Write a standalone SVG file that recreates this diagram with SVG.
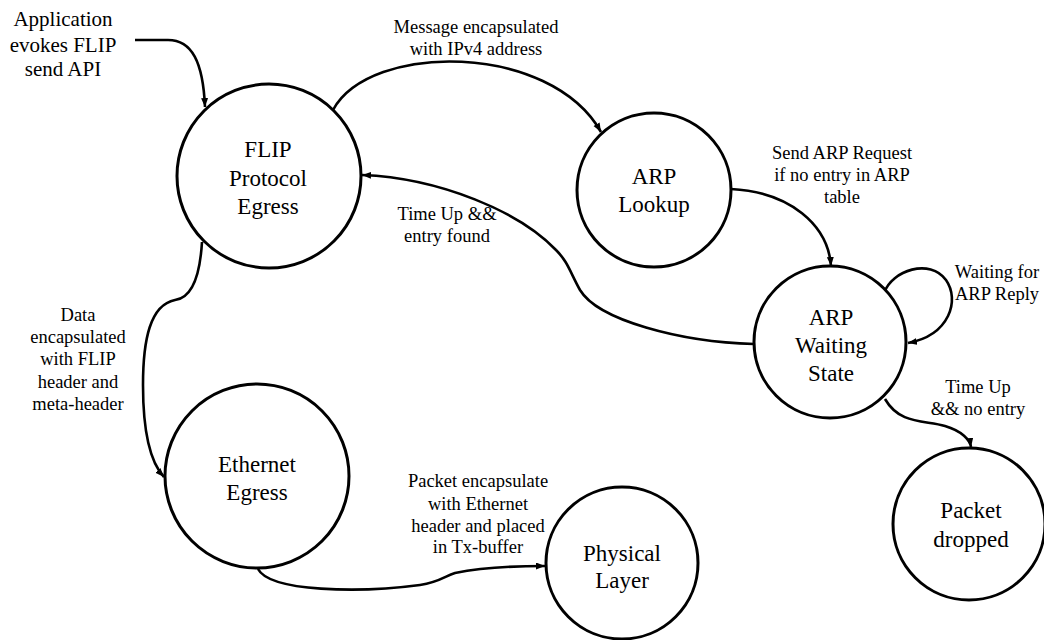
<svg xmlns="http://www.w3.org/2000/svg" width="1044" height="640" viewBox="0 0 1044 640">
  <style>
    .state { fill: #ffffff; stroke: #000000; stroke-width: 3; }
    text { font-family: 'Liberation Serif', Tinos, 'Times New Roman', 'Nimbus Roman', 'DejaVu Serif', serif; fill: #000000; text-anchor: middle; }
    .name { font-size: 23px; }
    .label { font-size: 18.5px; }
    .entry { font-size: 21px; }
    .edge { fill: none; stroke: #000000; stroke-width: 2.6; }
  </style>
  <defs>
    <marker id="arrow" markerUnits="userSpaceOnUse" markerWidth="10" markerHeight="8" refX="9" refY="3.5" orient="auto">
      <path d="M0,0 L9,3.5 L0,7 z" fill="#000000"/>
    </marker>
  </defs>
  <rect width="1044" height="640" fill="#ffffff"/>

  <!-- transitions -->
  <g id="connectors">
    <path class="edge" marker-end="url(#arrow)" d="M135,40 L168,40 C192,40 203,62 205,107"/>
    <path class="edge" marker-end="url(#arrow)" d="M333,110 C370,42 550,42 601,132"/>
    <path class="edge" marker-end="url(#arrow)" d="M731,189 C790,192 828,225 831,266"/>
    <path class="edge" marker-end="url(#arrow)" d="M884,293 C892,270 930,258 946,280 C960,300 950,335 908,343"/>
    <path class="edge" marker-end="url(#arrow)" d="M885,399 C900,425 925,420 945,426 C962,431 970,440 971,447"/>
    <path class="edge" marker-end="url(#arrow)" d="M754,344 C680,342 598,320 580,290 C570,272 568,262 556,250 C520,212 440,178 362,175"/>
    <path class="edge" marker-end="url(#arrow)" d="M202,242 C200,275 192,298 175,300 C150,305 143,340 143,385 C143,430 150,462 164,477"/>
    <path class="edge" marker-end="url(#arrow)" d="M258,569 C270,592 360,593 420,585 C440,582 445,576 455,573 C480,568 515,566 545,566"/>
  </g>

  <!-- transition labels -->
  <g id="labels">
    <text class="entry" x="63" y="26">Application</text>
    <text class="entry" x="63" y="52">evokes FLIP</text>
    <text class="entry" x="63" y="76">send API</text>

    <text class="label" x="476" y="33">Message encapsulated</text>
    <text class="label" x="476" y="55">with IPv4 address</text>

    <text class="label" x="842" y="159">Send ARP Request</text>
    <text class="label" x="842" y="181">if no entry in ARP</text>
    <text class="label" x="842" y="203">table</text>

    <text class="label" x="447" y="220">Time Up &amp;&amp;</text>
    <text class="label" x="447" y="242">entry found</text>

    <text class="label" x="997" y="278">Waiting for</text>
    <text class="label" x="997" y="300">ARP Reply</text>

    <text class="label" x="978" y="393">Time Up</text>
    <text class="label" x="978" y="415">&amp;&amp; no entry</text>

    <text class="label" x="78" y="321">Data</text>
    <text class="label" x="78" y="343">encapsulated</text>
    <text class="label" x="78" y="365">with FLIP</text>
    <text class="label" x="78" y="388">header and</text>
    <text class="label" x="78" y="410">meta-header</text>

    <text class="label" x="478" y="487">Packet encapsulate</text>
    <text class="label" x="478" y="510">with Ethernet</text>
    <text class="label" x="478" y="532">header and placed</text>
    <text class="label" x="478" y="553">in Tx-buffer</text>
  </g>

  <!-- states -->
  <g id="flip-egress">
    <circle class="state" cx="269" cy="176" r="92"/>
    <text class="name" x="268" y="157">FLIP</text>
    <text class="name" x="268" y="186">Protocol</text>
    <text class="name" x="268" y="214">Egress</text>
  </g>
  <g id="arp-lookup">
    <circle class="state" cx="654" cy="190" r="77"/>
    <text class="name" x="654" y="184">ARP</text>
    <text class="name" x="654" y="212">Lookup</text>
  </g>
  <g id="arp-waiting">
    <circle class="state" cx="830" cy="342" r="76"/>
    <text class="name" x="831" y="325">ARP</text>
    <text class="name" x="831" y="353">Waiting</text>
    <text class="name" x="831" y="381">State</text>
  </g>
  <g id="ethernet-egress">
    <circle class="state" cx="257" cy="476" r="92"/>
    <text class="name" x="257" y="472">Ethernet</text>
    <text class="name" x="257" y="500">Egress</text>
  </g>
  <g id="physical-layer">
    <circle class="state" cx="622" cy="563" r="76"/>
    <text class="name" x="622" y="561">Physical</text>
    <text class="name" x="622" y="588">Layer</text>
  </g>
  <g id="packet-dropped">
    <circle class="state" cx="969" cy="524" r="76"/>
    <text class="name" x="971" y="518">Packet</text>
    <text class="name" x="971" y="547">dropped</text>
  </g>
</svg>
